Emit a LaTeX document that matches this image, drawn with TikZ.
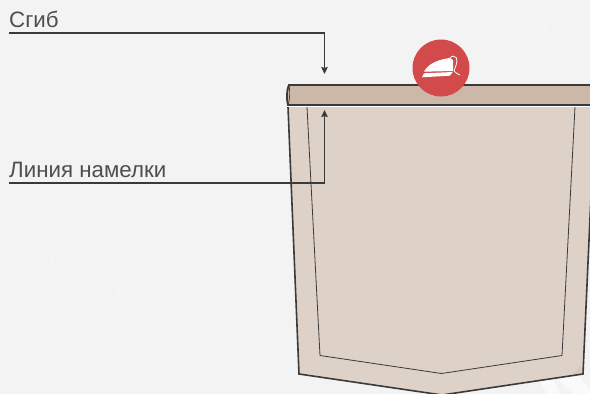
\documentclass[tikz,border=0pt]{standalone}
\usepackage{fontspec}
\setmainfont{Liberation Sans}
\definecolor{bgc}{HTML}{F3F3F3}
\definecolor{body}{HTML}{DED1C8}
\definecolor{band}{HTML}{CBB8A8}
\definecolor{ink}{HTML}{3A3A3A}
\definecolor{redc}{HTML}{D24A4A}
\usetikzlibrary{arrows.meta}
\tikzset{leader/.style={draw=ink,line width=1.6pt,-{Stealth[length=7pt,width=6.5pt,inset=1pt]}},
 lbl/.style={anchor=base west,inner sep=0pt,text=ink!90,font=\fontsize{22.3}{26}\selectfont},
 wm/.style={draw=white,line width=0.9pt,opacity=.3}}
\begin{document}
\begin{tikzpicture}[x=1pt,y=-1pt]
\useasboundingbox (0,0) rectangle (590,394);
\fill[bgc] (0,0) rectangle (590,394);
\draw[wm] (57,0) -- (87,62) -- (130,40) .. controls (134,34) and (136,28) .. (132,0);
\draw[wm] (470,5) -- (498,62) -- (538,42) .. controls (546,34) and (547,22) .. (542,0);
\draw[wm] (0,271) .. controls (3,269) and (3,262) .. (2,255) -- (50,252.5) .. controls (60,290) and (72,325) .. (97,314) -- (136,394);
\draw[wm] (88,258) -- (122,197) .. controls (130,212) and (148,220) .. (163,214) -- (250,394);
\draw[wm] (88,258) .. controls (112,268) and (132,295) .. (110,308) -- (152,394);
\draw[wm] (0,317) -- (37,394);
\fill[white,opacity=.65] (553,379) -- (578,375) -- (590,389) -- (590,394) -- (573,394) -- (560,381) -- cycle;
\fill[white,opacity=.65] (540,381) -- (553,379) -- (560,394) -- (547,394) -- cycle;
% pocket body
\fill[body] (288,106) -- (299,374) -- (442,395) -- (583,374) -- (595,106) -- cycle;
\fill[black,opacity=.04] (572,375) -- (580.5,365) -- (583,374) -- cycle;
\draw[ink,line width=1.6pt] (288,107) -- (299,374) -- (442,395) -- (583,374) -- (595,107);
\draw[ink,line width=.8pt] (307,107) -- (320,355.5) -- (441.5,373.5) -- (562,355.5) -- (575,107);
% band
\fill[band] (288,85) rectangle (595,105);
\draw[ink,line width=1.8pt] (595,85) -- (289,85) .. controls (286.5,90) and (286.5,100) .. (288,105) -- (595,105);
\draw[ink,line width=.7pt] (289,85) .. controls (290,90) and (290,100) .. (288,105);
\draw[white,line width=1.4pt] (287,106.7) -- (590,106.7);
% iron badge
\node[circle,fill=redc,minimum size=57pt,inner sep=0pt] (badge) at (441,68) {};
\fill[white] (424,71.7) .. controls (427,66) and (434,60) .. (450,58) -- (453,60) -- (453,71) -- cycle;
\fill[white] (424,73.3) -- (452.7,72) -- (450,75.7) -- (422,77.3) -- cycle;
\draw[white,line width=.8pt] (450,58) .. controls (452,55.5) and (455,55.5) .. (456.5,58) .. controls (458,63) and (455,67) .. (454,71) .. controls (456,73) and (458,74.5) .. (460,75);
% leaders
\coordinate (a1) at (9,33);
\coordinate (a2) at (324.5,33);
\coordinate (a3) at (324.5,74);
\draw[leader] (a1) -- (a2) -- (a3);
\coordinate (b1) at (9,183);
\coordinate (b2) at (324.5,183);
\coordinate (b3) at (324.5,110);
\draw[leader] (b1) -- (b2) -- (b3);
\node[lbl] (t1) at (9,27) {Сгиб};
\node[lbl] (t2) at (9,177) {Линия намелки};
\end{tikzpicture}
\end{document}
